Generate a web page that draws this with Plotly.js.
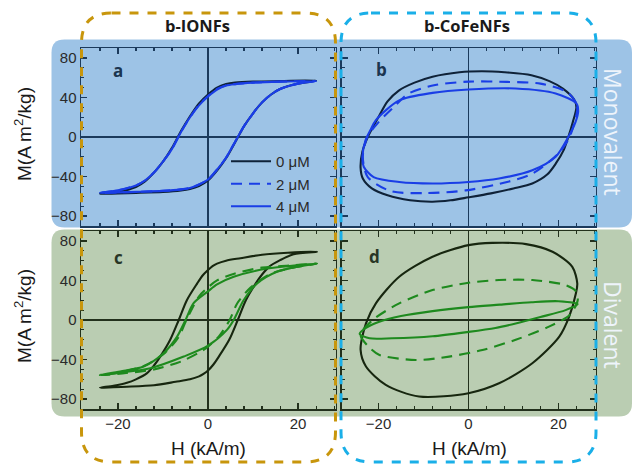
<!DOCTYPE html>
<html><head><meta charset="utf-8">
<script src="https://cdn.plot.ly/plotly-3.0.1.min.js"></script>
<style>html,body{margin:0;padding:0;background:#fff}#chart{width:632px;height:464px}</style>
</head><body><div id="chart"></div>
<script>
// ---- data (H in kA/m, M in A m^2/kg) ----
const seriesNames = ["0 \u03bcM", "2 \u03bcM", "4 \u03bcM"];
// panel a : b-IONFs monovalent
const a0H = [24, 16, 10, 6, 4, 2, 0, -2, -4, -6, -8, -10, -12, -14, -16, -20, -24, -20, -16, -10, -6, -4, -2, 0, 2, 4, 6, 8, 10, 12, 14, 16, 20, 24];
const a0M = [57, 56.5, 56, 55, 53.5, 50, 43, 34, 21, 6, -11, -25, -36, -45, -50.5, -55.5, -57.5, -57, -56.5, -55.5, -54, -52.5, -49.5, -44, -34, -21.5, -5.5, 11, 24, 35, 43, 48.5, 54, 57];
const a2H = [24, 16, 10, 6, 4, 2, 0, -2, -4, -6, -8, -10, -12, -14, -16, -20, -24, -20, -16, -10, -6, -4, -2, 0, 2, 4, 6, 8, 10, 12, 14, 16, 20, 24];
const a2M = [56.5, 56, 55, 53.5, 52, 48.5, 41.5, 32.5, 20, 5, -12, -25, -36, -44, -49, -54, -56.5, -56, -55.5, -54.5, -53, -51.5, -48, -43, -33, -21, -5, 11, 24, 35, 43, 48.5, 54, 56.5];
const a4H = [24, 16, 10, 6, 4, 2, 0, -2, -4, -6, -8, -10, -12, -14, -16, -20, -24, -20, -16, -10, -6, -4, -2, 0, 2, 4, 6, 8, 10, 12, 14, 16, 20, 24];
const a4M = [56.5, 56, 55, 53.5, 52, 48, 41, 32, 20, 5, -12, -25, -36, -44, -49, -54, -56.5, -56, -55.5, -54.5, -53, -51.5, -48, -43, -33, -21, -5, 11, 24, 35, 43, 48.5, 54, 56.5];
// panel b : b-CoFeNFs monovalent
const b0H = [24, 23.5, 21, 18, 14, 8, 3, -2, -8, -12, -15.5, -18, -19.8, -22.4, -23.6, -24, -23.5, -21.5, -18, -13, -8, -4, 0, 5, 10, 14.2, 17.5, 19.4, 21.2, 22.2, 23.2, 24];
const b0M = [30, 38, 49, 56.5, 62.5, 65.5, 66.5, 65.5, 61, 55, 47, 36, 22, 0, -15, -31, -42, -52, -59, -64, -65.5, -64, -61, -57, -52, -47, -38, -27, -13, 0, 15, 30];
const b2H = [24.2, 23.9, 21.9, 16, 8.6, 0, -7.4, -13.3, -16.9, -20, -22.5, -23.5, -22.4, -17.3, -9.2, -0.6, 8.6, 14.2, 20, 22.5, 23.6, 24.2];
const b2M = [28, 35, 45.5, 54, 55.7, 56, 52.5, 44, 29, 15, 0, -20, -40.5, -54.7, -56.7, -54, -45.5, -37, -16.7, 0, 15, 28];
const b4H = [24.4, 24, 19.4, 10.5, 0, -8, -15.4, -20.6, -21.8, -22.9, -23.6, -23.3, -21.1, -15.4, -8, 0, 6.8, 14.2, 19.4, 22.2, 23.8, 24.4];
const b4M = [26, 34, 44, 49, 48, 44.6, 37, 17, 7, -3.4, -20, -30, -40.5, -45.5, -47, -45.5, -42, -33.7, -20, 0, 15, 26];
// panel c : b-IONFs divalent
const c0H = [24.2, 17.7, 12, 7.2, 4, 2, 1, 0, -1.2, -2.4, -4.7, -6.5, -8.4, -10.6, -12, -13.6, -16, -18, -21, -24, -21, -18, -12, -7.2, -4, -2, -1, 0, 1.2, 2.4, 4.7, 6.6, 8.4, 10.6, 12, 13.6, 16, 19, 24.2];
const c0M = [69, 68, 66, 62.5, 60, 57, 54.5, 50.5, 45, 37, 20, 0, -20, -37, -46, -54, -60, -63.5, -66.5, -68.5, -68, -67.5, -66, -62.5, -60, -57, -54.5, -51, -45, -37, -20, 0, 20, 37, 46, 54, 60.5, 66.5, 69];
const c2H = [24.2, 18, 12, 6, 2, 0, -2, -4.8, -6.5, -9.5, -14, -19.5, -24, -19, -12, -6, -2, 0, 2.5, 4.8, 6.5, 9.5, 14, 19.5, 24.2];
const c2M = [57, 55, 53, 47, 40, 33, 24, 0, -17, -33, -46, -53, -56, -54, -50, -42, -33, -27, -16, 0, 17, 33, 47, 53.5, 57];
const c4H = [24.2, 20, 13.1, 5.7, 2, 0, -3.2, -5, -6.9, -9.9, -14.3, -19.5, -24, -19, -12.8, -5.4, 0, 4.2, 5.7, 7.9, 10.9, 15.3, 20.5, 24.2];
const c4M = [57, 55.5, 52, 43.7, 36, 29, 17, 0, -17, -33.6, -47, -52, -55.5, -53, -48.8, -37, -26, -10, 0, 20, 37, 48.8, 54.5, 57];
// panel d : b-CoFeNFs divalent
const d0H = [24.2, 23.1, 18.7, 12.8, 5.3, 0, -8, -15.4, -20.6, -22.8, -24, -22.8, -18.4, -11, 0, 6.8, 14.2, 20.2, 22.4, 23.9, 24.2];
const d0M = [37, 53.8, 69, 76.7, 78, 75.7, 64, 43.7, 16.8, -3.4, -30, -47, -65.6, -77.4, -74, -64, -43.7, -16.8, 3.4, 27, 37];
const d2H = [24.3, 23.9, 21.6, 14.2, 6.8, 0, -8, -15.4, -21.3, -24, -22, -19.8, -11.7, -4.3, 3.1, 10.5, 17.9, 22.5, 24.3];
const d2M = [20, 29, 35.3, 40.4, 40.4, 37.7, 30.3, 16.8, 0, -15, -28, -35.3, -40.4, -37, -30.3, -20, -6.7, 5, 20];
const d4H = [24.3, 20, 14, 7, 0, -8, -15, -20, -22.8, -24.2, -22, -17, -8, 0, 6, 10.5, 16, 21.6, 24.3];
const d4M = [16, 19, 18, 15.5, 13, 9, 4, -2, -8, -14, -18.5, -18.5, -16.5, -12, -8, -3.5, 3, 10, 16];

// ---- styles ----
const W = 632, H = 464;
const navy = "#0f2238", blue = "#1a3ee6", darkG = "#17260f", green = "#1e8a1e";
const frameTop = "#1b3a5c", frameBot = "#22301c";
const dashPat = "11px,7px";

function tr(x, y, xa, ya, color, dash, name, showleg) {
  return {x: x, y: y, xaxis: xa, yaxis: ya, type: "scatter", mode: "lines",
    line: {color: color, width: 2.1, dash: dash, shape: "spline", smoothing: 0.8},
    name: name, showlegend: showleg, hoverinfo: "skip"};
}
const data = [
  tr(a0H, a0M, "x", "y", navy, "solid", seriesNames[0], true),
  tr(a2H, a2M, "x", "y", blue, dashPat, seriesNames[1], true),
  tr(a4H, a4M, "x", "y", blue, "solid", seriesNames[2], true),
  tr(b0H, b0M, "x2", "y2", navy, "solid", seriesNames[0], false),
  tr(b2H, b2M, "x2", "y2", blue, dashPat, seriesNames[1], false),
  tr(b4H, b4M, "x2", "y2", blue, "solid", seriesNames[2], false),
  tr(c0H, c0M, "x3", "y3", darkG, "solid", seriesNames[0], false),
  tr(c2H, c2M, "x3", "y3", green, dashPat, seriesNames[1], false),
  tr(c4H, c4M, "x3", "y3", green, "solid", seriesNames[2], false),
  tr(d0H, d0M, "x4", "y4", darkG, "solid", seriesNames[0], false),
  tr(d2H, d2M, "x4", "y4", green, dashPat, seriesNames[1], false),
  tr(d4H, d4M, "x4", "y4", green, "solid", seriesNames[2], false)
];

const px = v => v / W, py = v => 1 - v / H;
const tickFont = {family: "Liberation Sans, Arial, sans-serif", size: 15, color: "#2a2a2a"};
function xax(dom, anchor, col, labels) {
  return {domain: dom, anchor: anchor, range: [-28.2, 28.3], showgrid: false,
    zeroline: true, zerolinecolor: col, zerolinewidth: 1.3,
    showline: true, linecolor: col, linewidth: 1.5, mirror: "ticks",
    ticks: "inside", ticklen: 6, tickwidth: 1.3, tickcolor: col, dtick: 20, tick0: 0,
    minor: {ticks: "inside", ticklen: 3, dtick: 4, tick0: 0, tickcolor: col, tickwidth: 1.2, showgrid: false},
    showticklabels: labels, tickfont: tickFont, fixedrange: true};
}
function yax(dom, anchor, col, labels) {
  return {domain: dom, anchor: anchor, range: [-90, 90], showgrid: false,
    zeroline: true, zerolinecolor: col, zerolinewidth: 1.3,
    showline: true, linecolor: col, linewidth: 1.5, mirror: "ticks",
    ticks: "inside", ticklen: 6, tickwidth: 1.3, tickcolor: col, dtick: 40, tick0: 0,
    minor: {ticks: "inside", ticklen: 3, dtick: 10, tick0: 0, tickcolor: col, tickwidth: 1.2, showgrid: false},
    showticklabels: labels, tickfont: tickFont, fixedrange: true};
}
const xL = [px(81), px(335.5)], xR = [px(341.7), px(595.7)];
const yT = [py(226), py(48)], yB = [py(409), py(231)];

function rr(x0, y0, x1, y1, r) {
  const X = v => px(v).toFixed(5), Y = v => py(v).toFixed(5);
  return "M" + X(x0 + r) + "," + Y(y0) + " L" + X(x1 - r) + "," + Y(y0) +
    " Q" + X(x1) + "," + Y(y0) + " " + X(x1) + "," + Y(y0 + r) +
    " L" + X(x1) + "," + Y(y1 - r) +
    " Q" + X(x1) + "," + Y(y1) + " " + X(x1 - r) + "," + Y(y1) +
    " L" + X(x0 + r) + "," + Y(y1) +
    " Q" + X(x0) + "," + Y(y1) + " " + X(x0) + "," + Y(y1 - r) +
    " L" + X(x0) + "," + Y(y0 + r) +
    " Q" + X(x0) + "," + Y(y0) + " " + X(x0 + r) + "," + Y(y0) + " Z";
}
const shapes = [
  {type: "path", xref: "paper", yref: "paper", layer: "below", path: rr(51.5, 39.5, 632, 227.5, 13), fillcolor: "#9dc3e6", line: {width: 0}},
  {type: "path", xref: "paper", yref: "paper", layer: "below", path: rr(51.5, 229.5, 632, 416.5, 13), fillcolor: "#bacdb2", line: {width: 0}},
  {type: "path", xref: "paper", yref: "paper", layer: "above", path: rr(81.5, 13, 335.5, 462, 30), line: {color: "#c8960c", width: 3, dash: "dash"}},
  {type: "path", xref: "paper", yref: "paper", layer: "above", path: rr(341, 13, 596, 462, 30), line: {color: "#1aafe8", width: 3, dash: "dash"}}
];
const sansA = "Liberation Sans, Arial, sans-serif";
const sans2 = "Open Sans, Noto Sans, sans-serif";
function ann(text, x, y, size, color, family, opts) {
  return Object.assign({text: text, xref: "paper", yref: "paper", x: px(x), y: py(y), showarrow: false,
    xanchor: "center", yanchor: "middle", font: {family: family, size: size, color: color}}, opts || {});
}
const annotations = [
  ann("<b>b-IONFs</b>", 197, 26, 16.5, "#1a1a1a", sans2),
  ann("<b>b-CoFeNFs</b>", 467, 25, 16.5, "#1a1a1a", sans2),
  ann("Monovalent", 613, 132, 23, "#eef4fb", sans2, {textangle: 90}),
  ann("Divalent", 613, 325, 23, "#eef4fb", sans2, {textangle: 90}),
  ann("<b>a</b>", 118, 70, 17, "#1b3550", sans2),
  ann("<b>b</b>", 381, 69, 17, "#1b3550", sans2),
  ann("<b>c</b>", 118, 257, 17, "#283626", sans2),
  ann("<b>d</b>", 374, 256, 17, "#283626", sans2),
  ann("M(A m<sup>2</sup>/kg)", 23, 134, 19, "#1a1a1a", sansA, {textangle: -90}),
  ann("M(A m<sup>2</sup>/kg)", 23, 316, 19, "#1a1a1a", sansA, {textangle: -90}),
  ann("H (kA/m)", 208, 448, 19, "#1a1a1a", sansA),
  ann("H (kA/m)", 469, 448, 19, "#1a1a1a", sansA)
];
const layout = {
  width: W, height: H, margin: {l: 0, r: 0, t: 0, b: 0},
  paper_bgcolor: "#ffffff", plot_bgcolor: "rgba(0,0,0,0)",
  xaxis: xax(xL, "y", frameTop, false), yaxis: yax(yT, "x", frameTop, true),
  xaxis2: xax(xR, "y2", frameTop, false), yaxis2: yax(yT, "x2", frameTop, false),
  xaxis3: xax(xL, "y3", frameBot, true), yaxis3: yax(yB, "x3", frameBot, true),
  xaxis4: xax(xR, "y4", frameBot, true), yaxis4: yax(yB, "x4", frameBot, false),
  showlegend: true,
  legend: {x: px(226), y: py(145), xanchor: "left", yanchor: "top", bgcolor: "rgba(0,0,0,0)",
    font: {family: sansA, size: 15, color: "#2a2a2a"}, tracegroupgap: 0, itemwidth: 40},
  shapes: shapes, annotations: annotations
};
Plotly.newPlot("chart", data, layout, {staticPlot: true, displayModeBar: false});
</script></body></html>
